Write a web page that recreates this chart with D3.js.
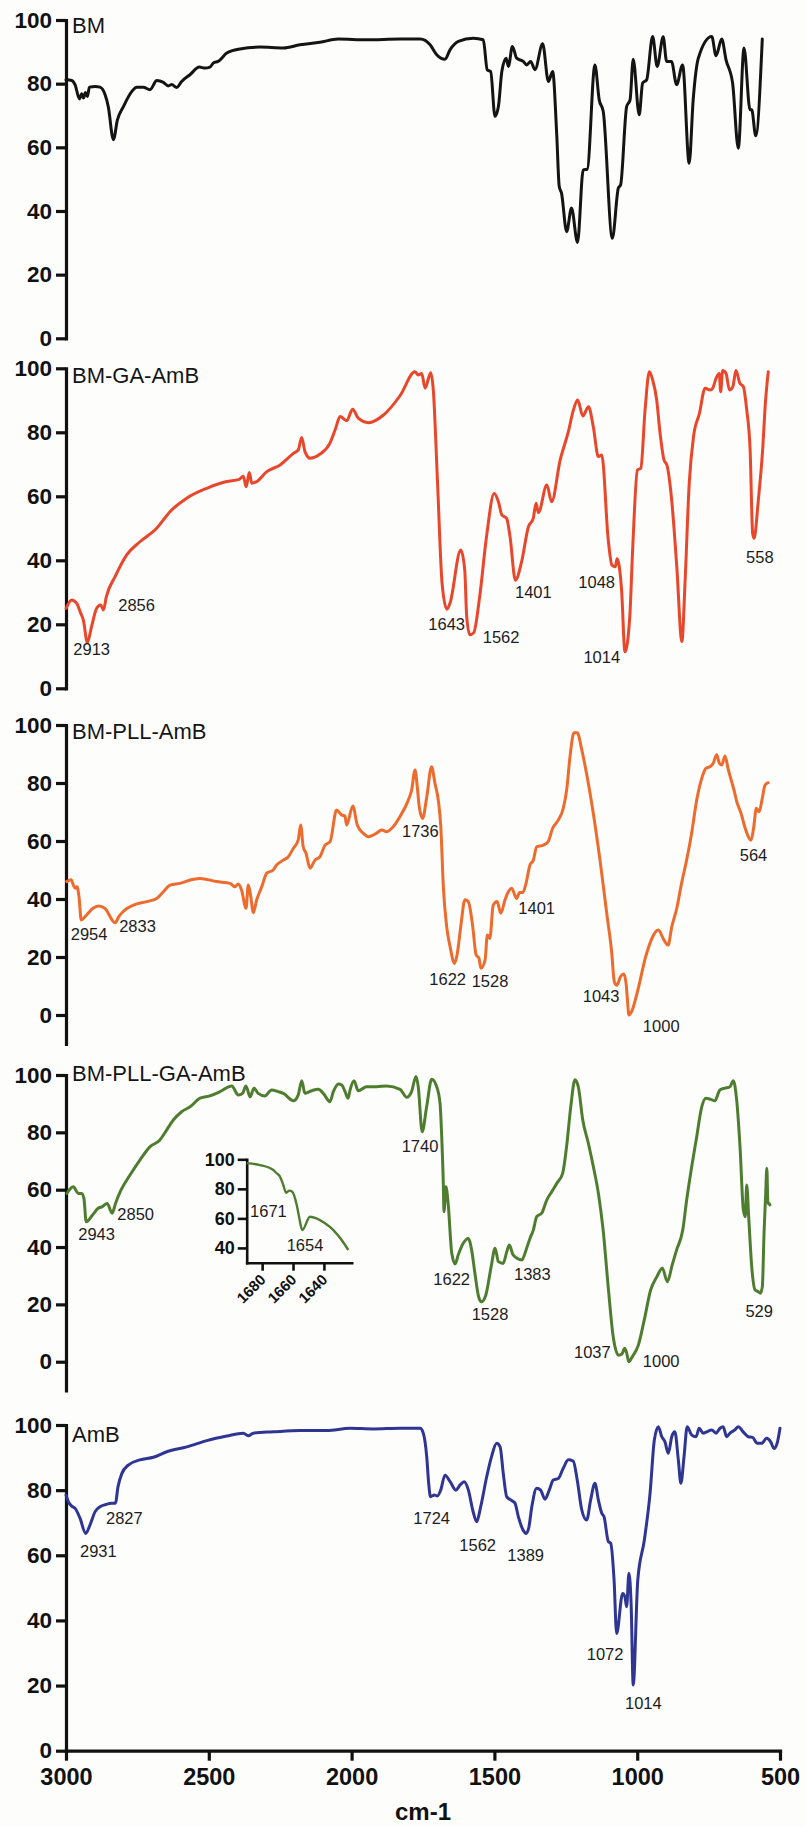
<!DOCTYPE html>
<html>
<head>
<meta charset="utf-8">
<script src="https://cdn.jsdelivr.net/npm/d3@7"></script>
<style>
  html, body { margin: 0; padding: 0; background: #fdfdfc; }
  svg { display: block; }
  text { font-family: "Liberation Sans", Arial, Helvetica, sans-serif; }
</style>
</head>
<body>
<svg id="chart" width="806" height="1827"></svg>
<script>
// ---- FTIR spectra: [wavenumber (cm-1), transmittance (%)] ----
const sampleNames = ["BM", "BM-GA-AmB", "BM-PLL-AmB", "BM-PLL-GA-AmB", "AmB"];
const wavenumberTicks = [3000, 2500, 2000, 1500, 1000, 500];
const transmittanceTicks = [0, 20, 40, 60, 80, 100];
const insetWavenumberTicks = [1680, 1660, 1640];
const insetTransmittanceTicks = [40, 60, 80, 100];

const spectrumBM = [[3000,81.2],[2980,81],[2968,79.6],[2953,75.2],[2945,76.8],[2939,75.5],[2932,77.2],[2925,76],[2918,78.9],[2898,79.1],[2881,78.9],[2863,76.5],[2852,72.8],[2834,62.4],[2820,68.6],[2799,72.8],[2770,77.5],[2752,78.9],[2729,78.9],[2706,78.1],[2682,81],[2659,80.4],[2642,79.3],[2630,79.7],[2612,78.8],[2595,80.7],[2566,82.8],[2533,85.2],[2513,84.9],[2496,85.2],[2484,86.5],[2467,87],[2437,89.6],[2391,90.9],[2321,91.5],[2239,91.2],[2181,92.2],[2111,93],[2047,94],[1947,93.8],[1830,94],[1760,94],[1725,92.2],[1702,89.1],[1673,87.7],[1655,90.7],[1626,93.3],[1574,94.3],[1539,93.8],[1525,84.3],[1513,83.8],[1498,69.7],[1486,72.8],[1474,83.8],[1459,88],[1451,85.4],[1437,91.7],[1422,88],[1399,87],[1387,85.9],[1373,87],[1358,84.4],[1331,92.5],[1311,80.7],[1296,83.8],[1282,64.5],[1273,47.7],[1265,45.6],[1247,33.5],[1230,40.9],[1209,30.1],[1189,52.9],[1175,53.1],[1148,85.9],[1133,74.9],[1119,71.3],[1087,31.4],[1066,47.2],[1058,48.2],[1037,72.8],[1025,74.9],[1014,87.7],[993,70.2],[981,80.2],[967,81.2],[946,94.8],[930,85.4],[909,94.7],[897,87],[880,87],[862,79.7],[841,85.9],[818,55],[804,74.9],[786,88],[739,94.8],[724,88.8],[704,94],[689,87.5],[666,80.2],[646,59.7],[626,91.2],[605,71.8],[599,71.8],[585,63.6],[562,94]];

const spectrumBMGA = [[2988,25],[2968,27.6],[2951,26.6],[2936,23.4],[2927,21.3],[2913,14.3],[2898,19.3],[2880,25],[2866,26],[2856,24.5],[2846,28.6],[2815,34.9],[2774,41.7],[2727,45.8],[2668,50],[2621,55.2],[2562,59.4],[2491,62.5],[2421,64.6],[2376,65.3],[2362,66.3],[2352,63],[2341,67.4],[2332,64.1],[2315,64.6],[2279,67.7],[2232,69.8],[2185,73.4],[2168,74.5],[2156,78.4],[2144,73.9],[2126,71.9],[2091,73.2],[2056,76.6],[2038,80.7],[2020,84.9],[1997,83.6],[1976,87.2],[1956,84.4],[1920,83],[1867,85.4],[1808,91.5],[1756,98.9],[1744,97.9],[1732,98.4],[1720,93.8],[1700,98.6],[1691,93.2],[1676,64.1],[1660,32.8],[1643,24.7],[1632,26.6],[1594,43.2],[1580,37],[1573,22.4],[1562,16.7],[1548,17.4],[1528,28.1],[1503,47.4],[1476,60.9],[1461,58.3],[1449,54.2],[1432,53.1],[1420,47.4],[1401,33.8],[1379,39.6],[1355,50.5],[1338,53.1],[1328,57.8],[1320,54.9],[1290,63.5],[1273,58.3],[1243,71.3],[1214,80.2],[1196,87],[1181,90.1],[1163,85.1],[1143,88],[1126,81.8],[1108,72.4],[1096,72.9],[1073,46.3],[1060,38.5],[1048,38],[1042,40.5],[1026,30.7],[1014,11.4],[997,22.4],[987,43.2],[970,68.2],[958,68.8],[943,87],[928,98.9],[916,96.3],[902,90.1],[890,79.7],[876,71.3],[866,69.8],[849,58.8],[831,38],[813,14.6],[802,32.8],[787,64.1],[772,78.6],[751,85.9],[731,93.8],[713,93.2],[704,93.8],[692,96.9],[681,98.4],[676,92.7],[669,99.3],[657,98.4],[645,93.2],[633,94.3],[622,99.3],[608,95.3],[596,94.3],[584,87],[572,74.5],[563,48.4],[558,46.9],[543,58.8],[527,75.5],[519,88],[508,98.9]];

const spectrumBMPLL = [[3006,46],[2990,46.6],[2982,44.8],[2975,43.7],[2969,44.2],[2962,40.8],[2954,32.8],[2935,34.5],[2912,36.8],[2892,37.6],[2870,36.8],[2833,31.8],[2820,33.9],[2805,35.6],[2790,36.8],[2768,37.9],[2720,39.1],[2685,40.2],[2661,42.5],[2637,44.8],[2602,45.4],[2554,46.8],[2530,47.1],[2471,46],[2423,45.4],[2405,44.2],[2394,45.2],[2382,43.1],[2366,36.8],[2358,44.8],[2349,40.8],[2340,35.3],[2328,39.7],[2310,44.2],[2292,48.9],[2269,50],[2257,51.7],[2233,53.4],[2215,54.6],[2197,57.5],[2180,60.3],[2171,65.5],[2162,58],[2152,55.8],[2138,50.6],[2120,53.4],[2102,54.6],[2084,58.6],[2066,59.8],[2043,70.7],[2025,69],[2013,68.6],[2007,65.5],[1985,72.1],[1969,65.5],[1948,62.7],[1930,61.5],[1900,62.7],[1882,63.8],[1864,63.2],[1846,64.4],[1817,68.4],[1787,74.1],[1775,77.6],[1763,84.5],[1755,78.7],[1748,71.8],[1736,67.8],[1721,75.3],[1704,85.6],[1692,79.9],[1680,74.1],[1671,64.9],[1662,44.2],[1650,30.4],[1638,23.6],[1622,17.8],[1612,21.3],[1600,30.4],[1585,39.7],[1573,39.1],[1557,30.4],[1545,20.7],[1535,19.6],[1528,16.1],[1513,19],[1505,27.6],[1496,26.4],[1484,37.9],[1470,39.1],[1457,35.1],[1442,39.7],[1430,42.5],[1418,43.7],[1401,40.2],[1390,42.2],[1379,42.2],[1367,45.4],[1353,51.7],[1341,53.4],[1329,58],[1305,58.6],[1288,59.8],[1272,64.4],[1252,67.2],[1234,71.3],[1222,77.6],[1210,89.1],[1196,97.3],[1184,97.3],[1168,91.4],[1151,83.3],[1127,69.6],[1103,53.4],[1079,35.1],[1061,21.3],[1052,11.5],[1043,10.3],[1030,13.2],[1018,14.1],[1010,10.9],[1005,5.2],[1000,0],[988,1.7],[968,8.6],[940,20.1],[915,27],[895,29.3],[875,25.9],[860,24.1],[847,30.4],[829,36.8],[812,45.4],[794,53.4],[776,62.7],[758,74.1],[740,81.6],[725,85.1],[711,85.6],[699,86.8],[687,89.7],[677,86.8],[669,86.2],[657,89.3],[645,84.5],[633,80.4],[625,77.6],[615,73.6],[600,69.6],[585,64.4],[564,60.3],[555,64.4],[545,71.3],[535,70.1],[524,74.7],[514,79.3],[503,80.1]];

const spectrumBMPLLGA = [[3012,58.7],[2989,61],[2971,58.7],[2959,58.7],[2951,57],[2943,48.8],[2920,51.2],[2900,53.5],[2885,54.1],[2868,55.2],[2850,51.8],[2838,55.2],[2818,59.9],[2786,65.1],[2750,70.4],[2714,75],[2679,77.3],[2655,80.8],[2631,84.3],[2601,87.2],[2571,88.9],[2535,91.9],[2500,92.7],[2464,94.2],[2422,96.2],[2398,93],[2383,93.6],[2371,96.2],[2356,92.4],[2342,95.4],[2327,93.6],[2303,92.7],[2279,94.8],[2255,94.2],[2237,93.6],[2201,91],[2184,93],[2171,98],[2160,93.6],[2136,94.5],[2112,95],[2094,93.6],[2070,90.7],[2058,94.2],[2040,96.9],[2028,96.5],[2016,94.2],[2005,91.9],[1998,94.8],[1984,98],[1969,94.5],[1939,95.9],[1903,95.9],[1867,96.2],[1819,95],[1795,92.2],[1778,94.2],[1762,99.5],[1754,95.9],[1740,80.2],[1724,88.9],[1706,98.5],[1688,95.9],[1676,90.1],[1670,78.5],[1664,61],[1662,52.3],[1655,61],[1647,55.2],[1634,37.8],[1622,34.1],[1611,37.2],[1593,41.3],[1575,43],[1563,39],[1551,30.8],[1538,22.7],[1528,20.9],[1512,23.3],[1493,33.1],[1479,39.6],[1467,34.9],[1450,34.3],[1437,38.4],[1428,40.7],[1414,37.2],[1383,35.5],[1368,39],[1354,43],[1342,45.9],[1330,50.6],[1312,51.8],[1294,56.4],[1276,59.3],[1258,62.2],[1237,65.7],[1223,75],[1208,88.9],[1193,98.3],[1181,95.9],[1165,84.3],[1145,76.2],[1127,68],[1109,58.7],[1092,45.9],[1074,26.2],[1056,8.7],[1037,2.3],[1025,2.7],[1015,4.7],[1008,3.1],[1000,0],[988,1.7],[966,5.8],[945,14.5],[922,25],[900,29.6],[880,32.6],[862,27.9],[845,33.7],[829,39],[807,45.9],[793,56.4],[775,68],[757,78.5],[739,88.9],[724,91.9],[707,91.5],[692,91],[674,94.8],[656,95.4],[638,95.9],[626,98],[614,91.3],[602,75],[590,52.9],[583,50.6],[578,61.6],[571,50.6],[560,33.1],[548,25],[538,24.5],[529,23.9],[522,26.2],[516,44.8],[510,58.7],[506,67.5],[502,55.2],[498,55.2],[495,54.7]];

const spectrumAmB = [[3000,78.5],[2992,76.5],[2980,75.1],[2968,74.4],[2951,71.4],[2931,66.7],[2916,69.3],[2898,73.4],[2881,74.9],[2860,75.6],[2840,76],[2827,76],[2818,81],[2805,85],[2782,87.7],[2741,89.3],[2694,90.1],[2647,91.8],[2577,93.3],[2507,95.2],[2437,96.6],[2379,97.5],[2362,96.7],[2344,97.5],[2274,97.9],[2181,98.3],[2087,98.3],[2006,99],[1924,98.8],[1830,99],[1760,99],[1749,97.5],[1737,90.3],[1730,82],[1724,78],[1710,78.5],[1700,78.2],[1688,80],[1673,84.6],[1655,82.6],[1635,80],[1620,81.6],[1606,82.6],[1591,80],[1576,73.9],[1562,70.3],[1548,74.9],[1527,84.1],[1510,90.3],[1492,94.4],[1480,93.3],[1469,85.2],[1457,78],[1443,77],[1428,76],[1416,71.8],[1401,68],[1389,66.7],[1380,68.3],[1369,74.9],[1352,80.6],[1338,80],[1323,77.2],[1308,80],[1294,83.1],[1276,83.6],[1259,86.7],[1241,89.3],[1224,88.9],[1210,83.1],[1194,73.9],[1177,70.8],[1163,77],[1148,82.1],[1136,77],[1124,72.9],[1116,71.8],[1101,64.2],[1093,63.7],[1081,52.4],[1072,36],[1051,48.3],[1043,47.3],[1037,44.2],[1029,54.5],[1021,44.2],[1014,20.2],[998,52.4],[975,64.7],[955,79],[940,95.4],[926,99.5],[914,96.4],[903,94.9],[891,91.3],[879,96.4],[868,97.9],[856,89.3],[847,82.1],[836,90.3],[825,99.5],[809,96.9],[794,96.4],[783,99],[769,97.5],[757,97.9],[739,98.5],[724,97.5],[710,99],[699,99.5],[687,96.4],[675,97.5],[658,98.5],[646,99.5],[629,97.9],[611,96.4],[596,96.2],[580,94.4],[564,94.4],[547,95.9],[533,94.9],[521,92.8],[510,94.4],[500,99]];

// Amide I region of BM-PLL-GA-AmB shown in the inset
const insetSpectrum = [[1690,97.4],[1681.4,96.1],[1672.8,92.8],[1671,90.9],[1668.4,88.2],[1666.3,82.6],[1664.5,77.4],[1662.4,78.8],[1660.5,78.1],[1657.6,69.1],[1656.1,61.1],[1654,52.1],[1649,61.1],[1639.3,56.7],[1633.9,52.1],[1628.5,45.4],[1624.2,38.6]];

// Assigned band positions (cm-1) per sample
const peaksBM = [];
const peaksBMGA = [2913, 2856, 1643, 1562, 1401, 1048, 1014, 558];
const peaksBMPLL = [2954, 2833, 1736, 1622, 1528, 1401, 1043, 1000, 564];
const peaksBMPLLGA = [2943, 2850, 1740, 1622, 1528, 1383, 1037, 1000, 529];
const peaksAmB = [2931, 2827, 1724, 1562, 1389, 1072, 1014];
const insetPeaks = [1671, 1654];

// ---- layout & styling ----
const W = 806, H = 1827;
const axisX = 66;
const fontFamily = '"Liberation Sans", Arial, Helvetica, sans-serif';
const panelLayout = [
  { xRange: [66, 780],     yDomain: [0, 100],   yRange: [338.3, 20],    titleDy: 13.3, color: "#141414" },
  { xRange: [62.7, 770.5], yDomain: [0, 100],   yRange: [688.3, 368.3], titleDy: 15,   color: "#E8472C" },
  { xRange: [68.35, 769],  yDomain: [-10, 100], yRange: [1044, 725],    titleDy: 14.3, color: "#EC6B2D" },
  { xRange: [70.24, 768.5],yDomain: [-10, 100], yRange: [1390.4, 1075], titleDy: 5.7,  color: "#4E7D30" },
  { xRange: [66, 780],     yDomain: [0, 100],   yRange: [1750.7, 1425], titleDy: 17.3, color: "#2F3592" }
];
// label placement relative to the band point (dx, dy of the text start/baseline)
const labelOffsets = [
  {},
  {2913:[-14,12.5], 2856:[14.8,1], 1643:[-18.6,20.7], 1562:[12.9,8.4], 1401:[-0.4,18.2], 1048:[-37,21.6], 1014:[-41.6,11.5], 558:[-8,24.5]},
  {2954:[-10.5,20.1], 2833:[4,9.5], 1736:[-20.6,18.3], 1622:[-25.2,21.6], 1528:[-9.2,19], 1401:[1.8,15.6], 1043:[-34.1,16.6], 1000:[14,16.7], 564:[-11.3,20.6]},
  {2943:[-7.9,18.2], 2850:[5.2,6.8], 1740:[-20.5,19.9], 1622:[-21.8,21.1], 1528:[-9.7,18.2], 1383:[-7.9,20.1], 1037:[-44.5,2.6], 1000:[14,5], 529:[-15,24]},
  {2931:[-5.7,23.2], 2827:[-9.4,20.8], 1724:[-17.1,27.3], 1562:[-17.4,29], 1389:[-18.8,27.2], 1072:[-29.9,26.6], 1014:[-8.2,24.4]}
];
const insetLabelOffsets = {1671:[-26,44], 1654:[-15.6,20.6]};

const panels = [
  { name: sampleNames[0], data: spectrumBM,      peaks: peaksBM },
  { name: sampleNames[1], data: spectrumBMGA,    peaks: peaksBMGA },
  { name: sampleNames[2], data: spectrumBMPLL,   peaks: peaksBMPLL },
  { name: sampleNames[3], data: spectrumBMPLLGA, peaks: peaksBMPLLGA },
  { name: sampleNames[4], data: spectrumAmB,     peaks: peaksAmB }
];

const svg = d3.select("#chart").attr("width", W).attr("height", H);
svg.append("rect").attr("width", W).attr("height", H).attr("fill", "#fdfdfc");

const intFormat = d3.format("d");

function styleAxis(sel, fontSize, strokeW) {
  sel.attr("font-family", fontFamily).attr("font-size", fontSize).attr("font-weight", "bold");
  sel.select(".domain").attr("stroke", "#111").attr("stroke-width", strokeW).attr("stroke-linecap", "square");
  sel.selectAll(".tick line").attr("stroke", "#111").attr("stroke-width", strokeW);
  sel.selectAll(".tick text").attr("fill", "#111");
}

let bottomX = null;

panels.forEach((p, i) => {
  const L = panelLayout[i];
  const x = d3.scaleLinear().domain([3000, 500]).range(L.xRange);
  const y = d3.scaleLinear().domain(L.yDomain).range(L.yRange);
  if (i === panels.length - 1) bottomX = x;
  const g = svg.append("g").attr("class", "panel");

  const yAxis = d3.axisLeft(y).tickValues(transmittanceTicks).tickSize(10)
    .tickPadding(4).tickSizeOuter(0).tickFormat(intFormat);
  const ag = g.append("g").attr("transform", `translate(${axisX},0)`).call(yAxis);
  styleAxis(ag, 22.5, 3.2);

  const line = d3.line().x(d => x(d[0])).y(d => y(d[1])).curve(d3.curveMonotoneX);
  g.append("path").datum(p.data)
    .attr("fill", "none").attr("stroke", L.color).attr("stroke-width", 3)
    .attr("stroke-linejoin", "round").attr("stroke-linecap", "round")
    .attr("d", line);

  g.append("text").attr("x", 72).attr("y", y(100) + L.titleDy)
    .attr("font-size", 22).attr("fill", "#151515").text(p.name);

  const offs = labelOffsets[i];
  p.peaks.forEach(wn => {
    const pt = p.data.find(d => d[0] === wn);
    const o = offs[wn] || [0, 18];
    g.append("text").attr("x", x(pt[0]) + o[0]).attr("y", y(pt[1]) + o[1])
      .attr("font-size", 16.5).attr("fill", "#1c1c1c").text(wn);
  });

  // inset: amide I region of BM-PLL-GA-AmB
  if (p.name === "BM-PLL-GA-AmB") {
    const ix = d3.scaleLinear().domain([1690, 1622]).range([246.7, 351.7]);
    const iy = d3.scaleLinear().domain([30, 100]).range([1262.7, 1159.3]);
    const ig = g.append("g").attr("class", "inset");
    const iyAxis = d3.axisLeft(iy).tickValues(insetTransmittanceTicks).tickSize(9)
      .tickPadding(3).tickSizeOuter(0).tickFormat(intFormat);
    const iya = ig.append("g").attr("transform", `translate(${ix.range()[0]},0)`).call(iyAxis);
    styleAxis(iya, 18, 2.6);
    const ixAxis = d3.axisBottom(ix).tickValues(insetWavenumberTicks).tickSize(8)
      .tickSizeOuter(0).tickFormat(intFormat);
    const ixa = ig.append("g").attr("transform", `translate(0,${iy.range()[0]})`).call(ixAxis);
    styleAxis(ixa, 15, 2.6);
    ixa.selectAll(".tick text").attr("x", 0).attr("y", 0).attr("dy", 0)
      .attr("text-anchor", "end").attr("transform", "translate(4,18) rotate(-45)");
    const iline = d3.line().x(d => ix(d[0])).y(d => iy(d[1])).curve(d3.curveMonotoneX);
    ig.append("path").datum(insetSpectrum).attr("fill", "none").attr("stroke", L.color)
      .attr("stroke-width", 2.4).attr("stroke-linejoin", "round").attr("d", iline);
    insetPeaks.forEach(wn => {
      const pt = insetSpectrum.find(d => d[0] === wn);
      const o = insetLabelOffsets[wn];
      ig.append("text").attr("x", ix(pt[0]) + o[0]).attr("y", iy(pt[1]) + o[1])
        .attr("font-size", 16.5).attr("fill", "#1c1c1c").text(wn);
    });
  }
});

// shared wavenumber axis under the last panel
const xAxis = d3.axisBottom(bottomX).tickValues(wavenumberTicks).tickSize(10)
  .tickPadding(8).tickSizeOuter(0).tickFormat(intFormat);
const xa = svg.append("g").attr("transform", `translate(0,${panelLayout[4].yRange[0]})`).call(xAxis);
styleAxis(xa, 23.5, 3.2);

svg.append("text").attr("x", (bottomX.range()[0] + bottomX.range()[1]) / 2).attr("y", 1820)
  .attr("text-anchor", "middle").attr("font-size", 24).attr("font-weight", "bold")
  .attr("fill", "#111").text("cm-1");
</script>
</body>
</html>
